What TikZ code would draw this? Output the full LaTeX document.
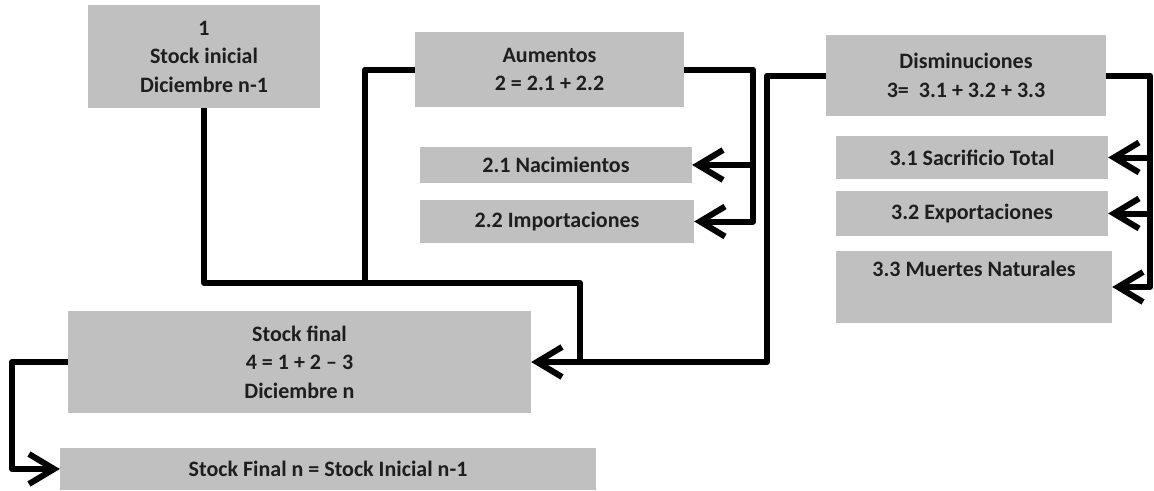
\documentclass[tikz,border=0pt]{standalone}
\usepackage{fontspec}
\setmainfont{Carlito}
\usetikzlibrary{arrows.meta}
\definecolor{boxgray}{RGB}{192,192,192}
\definecolor{txt}{RGB}{30,30,30}
\begin{document}
\begin{tikzpicture}[x=1pt,y=-1pt,
 box/.style={fill=boxgray, draw=none, inner sep=0pt, align=center, text=txt,
   font=\fontsize{22}{28.5}\selectfont\bfseries},
 conn/.style={line width=6pt, black, line join=round},
 arr/.style={conn, -{Straight Barb[length=25pt,width=30pt]}}]
\useasboundingbox (0,0) rectangle (1154,490);
% boxes
\node[box, minimum width=232pt, minimum height=103pt] (b1) at (204,56.5) {1\\Stock inicial\\Diciembre n-1};
\node[box, minimum width=269pt, minimum height=75pt] (aum) at (549.5,69.5) {Aumentos\\2 = 2.1 + 2.2};
\node[box, minimum width=272pt, minimum height=36pt] (nac) at (556,165) {2.1 Nacimientos};
\node[box, minimum width=274pt, minimum height=43pt] (imp) at (557,221.5) {2.2 Importaciones};
\node[box, minimum width=280pt, minimum height=81pt] (dis) at (966,75.5) {Disminuciones\\3=\ \ 3.1 + 3.2 + 3.3};
\node[box, minimum width=272pt, minimum height=43pt] (sac) at (972,157.5) {3.1 Sacrificio Total};
\node[box, minimum width=272pt, minimum height=45pt] (exp) at (972,213.5) {3.2 Exportaciones};
\node[box, minimum width=276pt, minimum height=72pt] (mue) at (974,287) {3.3 Muertes Naturales\\\strut};
\node[box, minimum width=463pt, minimum height=102pt] (sf) at (299.5,362) {Stock final\\4 = 1 + 2 – 3\\Diciembre n};
\node[box, minimum width=536pt, minimum height=42pt] (sfn) at (328,469) {Stock Final n = Stock Inicial n-1};
% helper coordinates
\coordinate (h1) at (580,283);
\coordinate (jn) at (580,362);
\coordinate (a1) at (365,283);
\coordinate (d2) at (767,362);
\coordinate (ar) at (753,221.5);
\coordinate (dr) at (1150,287);
\coordinate (sl) at (12,469);
% connectors
\draw[conn] (b1.south) |- (h1) -- (jn);
\draw[conn] (aum.west) -| (a1);
\draw[arr] (dis.west) -| (d2) -- (sf.east);
\draw[arr] (aum.east) -| (ar) -- (imp.east);
\draw[arr] (ar |- nac.east) -- (nac.east);
\draw[arr] (dis.east) -| (dr) -- (mue.east);
\draw[arr] (dr |- sac.east) -- (sac.east);
\draw[arr] (dr |- exp.east) -- (exp.east);
\draw[arr] (sf.west) -| (sl) -- (sfn.west);
\end{tikzpicture}
\end{document}
